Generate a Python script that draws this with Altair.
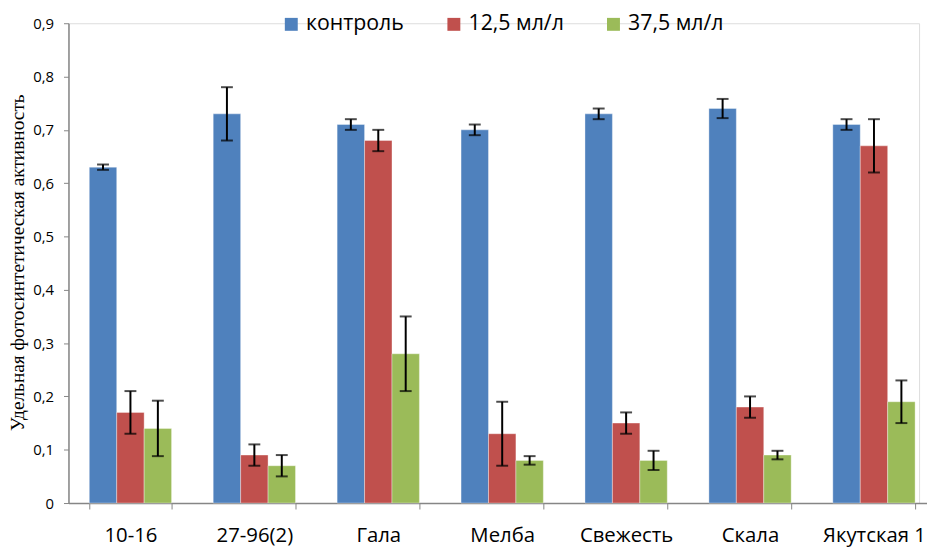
import altair as alt
import pandas as pd

categories = ["10-16", "27-96(2)", "Гала", "Мелба", "Свежесть", "Скала", "Якутская 1"]
series = ["контроль", "12,5 мл/л", "37,5 мл/л"]
control = [0.63, 0.73, 0.71, 0.70, 0.73, 0.74, 0.71]
control_err = [0.005, 0.05, 0.01, 0.01, 0.01, 0.018, 0.01]
c12 = [0.17, 0.09, 0.68, 0.13, 0.15, 0.18, 0.67]
c12_err = [0.04, 0.02, 0.02, 0.06, 0.02, 0.02, 0.05]
c37 = [0.14, 0.07, 0.28, 0.08, 0.08, 0.09, 0.19]
c37_err = [0.052, 0.02, 0.07, 0.008, 0.018, 0.008, 0.04]
colors = ["#4F81BD", "#C0504D", "#9BBB59"]

rows = []
for s, vals, errs in zip(series, [control, c12, c37], [control_err, c12_err, c37_err]):
    for c, v, e in zip(categories, vals, errs):
        rows.append({"cat": c, "series": s, "value": v, "lo": v - e, "hi": v + e})
df = pd.DataFrame(rows)

FONT = "Open Sans"
x_scale = alt.Scale(paddingInner=0.336, paddingOuter=0.168, range=[0, 875])
x_enc = alt.X("cat:N", sort=categories, scale=x_scale,
              axis=alt.Axis(title=None, labelAngle=0, labelFont=FONT, labelFontSize=20.5,
                            labelColor="#000", tickBand="extent", tickSize=6,
                            tickColor="#868686", domainColor="#868686", domainWidth=1.5,
                            labelPadding=17))
xo = alt.XOffset("series:N", sort=series, scale=alt.Scale(paddingInner=0, paddingOuter=0))

base = alt.Chart(df)
bars = base.mark_bar(stroke="white", strokeWidth=0.6, strokeOpacity=0.6).encode(
    x=x_enc,
    xOffset=xo,
    y=alt.Y("value:Q", scale=alt.Scale(domain=[0, 0.9], nice=False),
            axis=alt.Axis(title="Удельная фотосинтетическая активность",
                          values=[0, 0.1, 0.2, 0.3, 0.4, 0.5, 0.6, 0.7, 0.8, 0.9],
                          labelExpr="datum.value == 0 ? '0' : replace(format(datum.value, '.1f'), '.', ',')",
                          grid=False, labelFont=FONT, labelFontSize=15, labelColor="#000",
                          tickSize=5, tickColor="#868686", domainColor="#868686",
                          domainWidth=1.5, labelPadding=10,
                          titleFont="Liberation Serif", titleFontSize=19.5, titleFontWeight="normal",
                          titleColor="#000", titleX=-51, titleY=241, titleAngle=270,
                          titleAlign="center", titleBaseline="middle")),
    color=alt.Color("series:N", sort=series,
                    scale=alt.Scale(domain=series, range=colors),
                    legend=alt.Legend(title=None, orient="none", direction="horizontal",
                                      legendX=214, legendY=-10, symbolType="square",
                                      symbolSize=170, symbolStrokeWidth=0,
                                      labelFont=FONT, labelFontSize=21.5, labelColor="#000",
                                      columnPadding=39, labelOffset=4, symbolOpacity=1)),
)

rules = base.mark_rule(color="black", strokeWidth=2).encode(
    x=alt.X("cat:N", sort=categories, scale=x_scale), xOffset=xo, y="lo:Q", y2="hi:Q")
tick_lo = base.mark_tick(color="black", thickness=2, size=12).encode(
    x=alt.X("cat:N", sort=categories, scale=x_scale), xOffset=xo, y="lo:Q")
tick_hi = base.mark_tick(color="black", thickness=2, size=12).encode(
    x=alt.X("cat:N", sort=categories, scale=x_scale), xOffset=xo, y="hi:Q")

chart = alt.layer(bars, rules, tick_lo, tick_hi).properties(
    width=858, height=484,
    autosize=alt.AutoSizeParams(type="none"),
    padding={"left": 61, "top": 13, "right": 8, "bottom": 45},
).configure_view(stroke=None).configure(background="white")

chart.save("out.html", embed_options={"renderer": "svg", "actions": False})
